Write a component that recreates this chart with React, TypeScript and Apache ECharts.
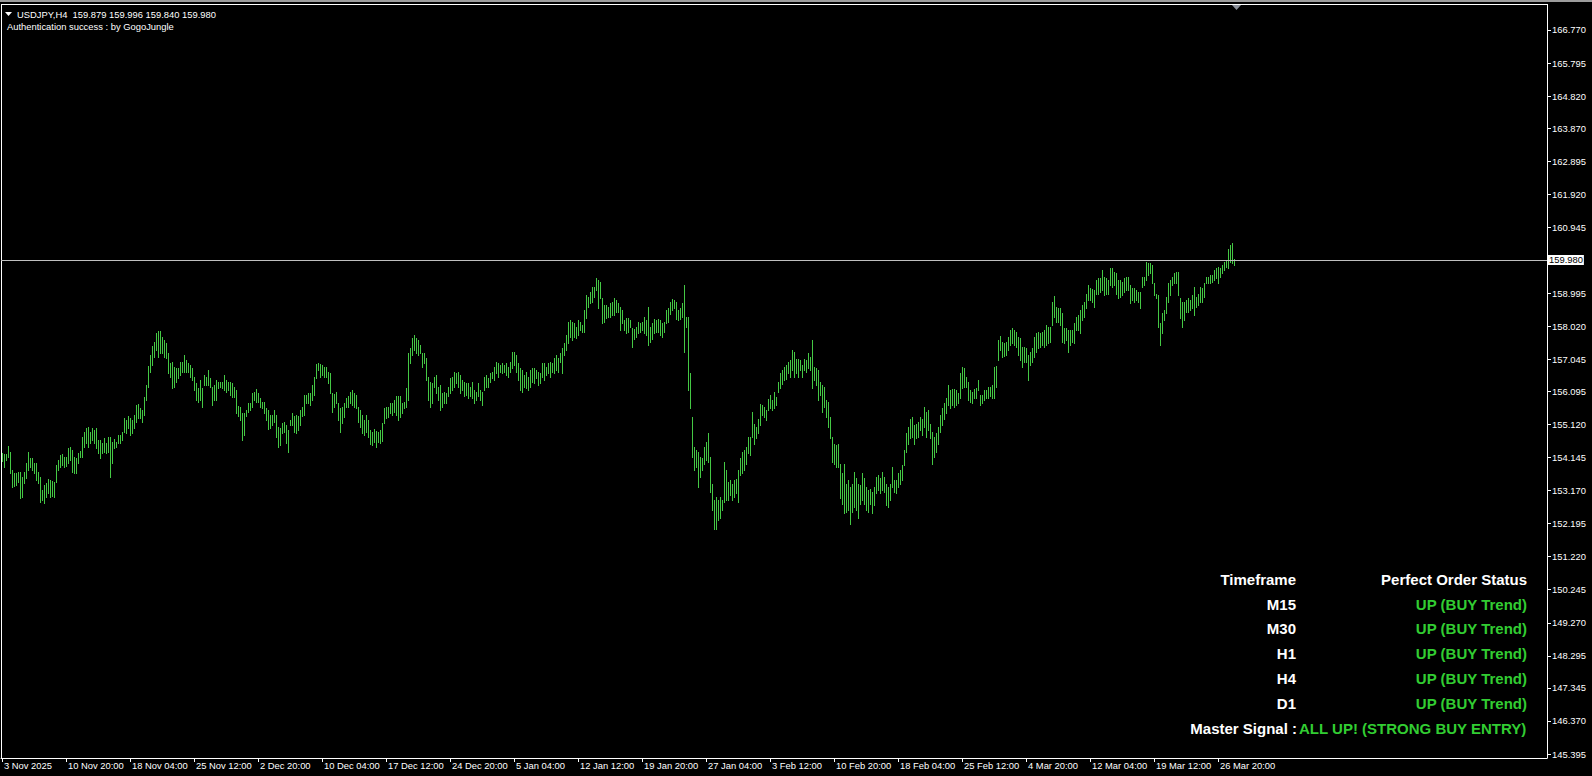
import React, { useEffect, useRef } from "react";
import * as echarts from "echarts";

// ---- chart data ----
const symbolLine = "USDJPY,H4  159.879 159.996 159.840 159.980";
const authLine = "Authentication success : by GogoJungle";
const lastPrice = 159.98;

const yTickValues = [
  166.77, 165.795, 164.82, 163.87, 162.895, 161.92, 160.945, 158.995, 158.02, 157.045, 156.095,
  155.12, 154.145, 153.17, 152.195, 151.22, 150.245, 149.27, 148.295, 147.345, 146.37, 145.395,
];

const xTickLabels = [
  "3 Nov 2025", "10 Nov 20:00", "18 Nov 04:00", "25 Nov 12:00", "2 Dec 20:00", "10 Dec 04:00",
  "17 Dec 12:00", "24 Dec 20:00", "5 Jan 04:00", "12 Jan 12:00", "19 Jan 20:00", "27 Jan 04:00",
  "3 Feb 12:00", "10 Feb 20:00", "18 Feb 04:00", "25 Feb 12:00", "4 Mar 20:00", "12 Mar 04:00",
  "19 Mar 12:00", "26 Mar 20:00",
];
const barsPerLabel = 32;
const totalSlots = 773;

// H4 bar highs
const highs = [
  154.27,154.25,154.25,154.49,154.32,153.78,153.68,153.70,153.73,153.73,
  153.58,153.73,153.98,154.32,154.12,154.12,154.00,153.98,153.73,153.58,
  153.19,153.34,153.39,153.50,153.49,153.45,153.44,153.93,154.08,154.22,
  154.25,154.17,154.17,154.42,154.47,154.37,154.17,154.12,154.27,154.35,
  154.76,154.91,155.01,155.04,154.91,155.01,154.96,155.01,154.67,154.67,
  154.57,154.72,154.57,154.74,154.76,154.62,154.69,154.62,154.81,154.81,
  154.91,155.31,155.26,155.36,155.31,155.26,155.40,155.70,155.73,155.60,
  155.55,155.94,156.29,156.85,157.18,157.44,157.57,157.82,157.87,157.87,
  157.72,157.62,157.52,157.23,156.93,156.98,156.83,156.78,156.78,156.98,
  156.98,157.18,157.03,156.95,156.88,156.78,156.54,156.34,156.19,156.44,
  156.19,156.59,156.54,156.73,156.49,156.24,156.29,156.44,156.39,156.39,
  156.39,156.59,156.44,156.39,156.39,156.34,156.22,156.14,155.67,155.65,
  155.45,155.45,155.55,155.75,155.75,156.04,156.09,156.16,156.04,155.90,
  155.80,155.80,155.60,155.55,155.40,155.40,155.55,155.40,155.06,155.01,
  155.16,155.21,155.11,154.96,155.26,155.45,155.36,155.40,155.36,155.55,
  155.65,155.99,155.99,156.04,156.04,156.29,156.54,156.91,156.95,
  156.91,156.88,156.83,156.83,156.68,156.63,156.04,156.02,156.09,155.75,
  155.60,155.65,155.75,155.90,155.95,156.09,156.14,156.04,155.99,155.65,
  155.55,155.40,155.26,155.40,155.26,154.96,154.91,154.98,154.94,154.91,
  154.96,155.16,155.60,155.65,155.65,155.75,155.75,155.85,155.95,155.96,
  155.95,155.75,155.80,156.19,157.22,157.37,157.67,157.77,157.67,157.62,
  157.47,157.22,157.22,157.08,156.54,156.39,156.34,156.54,156.58,156.24,
  156.29,156.04,156.09,156.04,156.24,156.49,156.54,156.68,156.63,156.68,
  156.58,156.44,156.39,156.34,156.34,156.24,156.39,156.14,156.09,156.34,
  156.14,156.09,156.54,156.58,156.49,156.63,156.68,156.83,156.98,156.93,
  156.88,156.93,156.88,156.93,156.83,156.98,157.27,157.27,157.18,156.93,
  156.78,156.73,156.58,156.68,156.54,156.73,156.78,156.78,156.73,156.68,
  156.63,156.93,156.93,156.83,156.93,156.98,156.93,157.08,157.18,157.08,
  157.22,157.37,157.52,157.77,158.16,158.21,158.16,158.11,158.01,158.21,
  158.16,158.06,158.50,158.95,158.90,159.04,159.19,159.19,159.44,159.39,
  159.34,158.85,158.65,158.65,158.60,158.70,158.75,158.85,158.80,158.70,
  158.60,158.50,158.21,158.26,158.26,
  158.20,157.96,157.93,158.01,158.15,158.13,158.15,158.30,158.20,158.58,
  158.01,158.11,158.25,158.20,158.25,158.20,158.11,158.15,158.50,158.55,
  158.75,158.84,158.79,158.75,158.50,158.55,158.70,159.24,158.30,158.30,
  156.63,155.35,154.46,154.37,154.32,154.17,154.12,154.46,154.61,154.86,
  154.17,153.38,152.89,152.99,152.89,152.99,152.89,154.02,153.78,153.43,
  153.48,153.38,153.48,153.50,153.78,154.12,154.32,154.37,154.46,154.76,
  154.76,155.50,155.15,155.06,155.30,155.74,155.69,155.65,155.55,155.89,
  155.99,155.84,156.09,155.94,156.38,156.63,156.73,156.83,156.88,156.97,
  157.02,157.32,157.27,157.07,157.07,157.02,156.88,157.07,157.02,157.22,
  157.12,157.61,156.83,156.78,156.73,156.38,156.29,156.24,155.84,155.79,
  155.35,154.76,154.56,154.51,154.56,153.97,153.68,153.97,153.38,153.48,
  153.28,153.38,153.73,153.53,153.38,153.33,153.68,153.53,153.28,153.19,
  153.23,153.14,153.28,153.58,153.63,153.53,153.73,153.58,153.38,153.28,
  153.38,153.87,153.48,153.48,153.68,153.78,153.92,154.37,154.86,155.06,
  155.30,155.35,155.10,155.15,155.20,155.35,155.30,155.65,155.50,155.55,
  155.15,154.91,154.76,154.86,155.06,
  155.40,155.60,155.75,155.90,156.29,156.14,156.16,156.16,156.14,156.04,
  156.63,156.83,156.78,156.53,156.39,156.14,156.09,156.16,156.19,156.44,
  155.99,155.99,156.14,156.14,156.24,156.24,156.29,156.83,156.85,157.62,
  157.74,157.57,157.52,157.57,157.72,157.91,157.96,157.91,157.86,157.72,
  157.67,157.42,157.42,157.37,157.18,157.27,157.37,157.72,157.82,157.86,
  157.82,157.86,157.91,158.06,158.01,158.01,158.75,158.92,158.60,158.55,
  158.55,158.41,157.96,157.96,157.91,157.91,157.91,158.11,158.31,158.36,
  158.50,158.65,158.75,158.99,159.24,159.14,159.11,159.09,159.39,159.44,
  159.44,159.69,159.49,159.44,159.39,159.73,159.73,159.64,159.59,159.39,
  159.39,159.34,159.44,159.49,159.49,159.24,159.14,159.14,159.09,159.04,
  159.04,159.49,159.49,159.93,159.88,159.88,159.83,159.29,158.99,158.95,
  158.11,158.41,158.50,158.90,159.29,159.39,159.49,159.59,159.64,159.64,
  158.85,158.75,158.75,158.80,158.85,158.80,158.95,159.17,158.90,158.99,
  159.19,159.14,159.29,159.49,159.49,159.54,159.54,159.69,159.73,159.78,
  159.73,159.83,159.93,159.98,160.29,160.42,160.47,160.00,
];

// H4 bar lows
const lows = [
  154.06,153.88,154.08,154.17,153.68,153.29,153.31,153.34,153.44,152.94,
  152.99,153.39,153.53,153.78,153.88,153.78,153.68,153.49,153.39,152.84,
  152.89,152.80,152.99,153.09,152.99,153.02,152.99,153.44,153.78,153.88,
  153.93,153.88,153.90,153.98,154.08,153.73,153.68,153.68,153.98,154.17,
  154.17,154.47,154.57,154.47,154.57,154.67,154.57,154.42,154.27,154.12,
  154.27,154.32,154.27,154.32,153.58,153.98,154.42,154.47,154.57,154.59,
  154.67,154.91,154.86,155.01,154.81,154.86,155.01,155.21,155.31,155.31,
  155.21,155.40,155.85,156.24,156.68,156.88,157.13,157.32,157.13,157.23,
  157.24,157.13,157.08,156.63,156.54,156.19,156.24,156.39,156.49,156.59,
  156.68,156.68,156.68,156.68,156.54,156.44,156.14,155.85,155.80,155.85,
  155.65,156.29,156.29,156.29,156.24,155.70,155.85,155.85,156.19,156.22,
  156.19,156.14,156.09,156.14,155.99,155.94,155.94,155.45,155.36,155.26,
  154.67,154.81,155.36,155.50,155.55,155.65,155.85,155.80,155.80,155.65,
  155.60,155.45,155.26,154.98,155.01,155.11,155.21,154.76,154.47,154.52,
  154.86,154.91,154.57,154.32,155.11,155.11,154.91,154.86,154.96,155.11,
  155.36,155.40,155.75,155.75,155.70,155.85,155.99,156.49,156.73,
  156.54,156.58,156.54,156.52,156.34,156.04,155.50,155.65,155.75,155.26,
  154.91,155.16,155.35,155.65,155.65,155.75,155.70,155.65,155.60,155.21,
  155.06,154.86,154.81,154.91,154.76,154.55,154.52,154.62,154.45,154.60,
  154.58,154.65,155.16,155.31,155.35,155.45,155.40,155.50,155.40,155.26,
  155.35,155.45,155.60,155.65,155.85,156.93,157.18,157.32,157.22,157.18,
  157.22,156.83,156.93,156.44,155.85,155.65,155.75,156.24,156.04,155.85,
  155.55,155.65,155.75,155.75,155.95,156.04,156.14,156.24,156.34,156.24,
  156.04,156.14,155.95,155.99,155.90,155.95,155.90,155.75,155.85,155.95,
  155.85,155.70,156.14,156.24,156.24,156.39,156.49,156.44,156.63,156.54,
  156.68,156.63,156.68,156.58,156.54,156.68,156.78,156.88,156.68,156.44,
  156.14,156.09,156.24,156.19,156.14,156.24,156.39,156.34,156.49,156.29,
  156.34,156.54,156.44,156.58,156.63,156.54,156.68,156.63,156.73,156.68,
  156.98,156.63,157.18,157.32,157.52,157.72,157.62,157.72,157.67,157.77,
  157.91,157.86,157.86,158.26,158.60,158.70,158.75,158.90,159.09,158.55,
  158.85,158.11,158.16,158.26,158.31,158.31,158.36,158.36,158.45,158.45,
  157.91,158.11,157.91,157.81,157.86,
  157.99,157.40,157.66,157.71,157.81,157.86,157.91,157.81,157.76,157.47,
  157.56,157.66,157.81,157.86,157.86,157.76,157.71,157.86,158.11,158.15,
  158.40,158.50,158.55,158.25,158.20,158.25,158.30,157.27,158.01,156.14,
  155.60,154.17,153.78,153.87,153.28,153.58,153.78,153.97,154.07,154.02,
  153.14,152.59,152.05,152.05,152.30,152.35,152.59,152.84,152.89,152.89,
  153.04,152.89,152.99,153.09,152.84,153.63,153.68,153.78,153.97,154.27,
  154.22,154.76,154.56,154.71,154.86,155.10,155.40,155.35,155.27,155.55,
  155.60,155.55,155.60,155.69,156.09,156.19,156.33,156.43,156.48,156.63,
  156.53,156.73,156.53,156.63,156.53,156.73,156.53,156.73,156.68,156.78,
  156.73,156.19,156.43,156.29,155.84,155.99,155.50,155.65,155.35,155.06,
  154.71,154.02,153.97,153.87,153.87,152.94,152.79,152.50,152.55,152.59,
  152.20,152.55,152.69,152.59,152.35,152.79,152.89,152.79,152.59,152.55,
  152.79,152.50,152.74,153.09,153.19,153.09,153.19,153.14,152.74,152.69,
  152.89,153.28,153.14,153.09,153.28,153.38,153.48,153.92,154.32,154.56,
  154.71,154.76,154.56,154.71,154.76,154.96,154.81,155.06,154.76,154.96,
  154.71,153.97,154.17,154.32,154.56,
  154.90,155.10,155.30,155.45,155.70,155.60,155.70,155.65,155.70,155.75,
  155.90,156.19,156.24,156.24,155.85,155.80,155.75,155.90,155.90,156.14,
  155.70,155.75,155.85,155.90,155.90,155.95,155.90,155.90,156.24,157.03,
  157.32,157.13,157.15,157.18,157.32,157.47,157.52,157.47,157.42,157.18,
  157.03,156.83,156.98,156.98,156.44,156.88,156.98,157.13,157.27,157.37,
  157.42,157.47,157.42,157.47,157.52,157.57,158.06,158.31,158.16,158.16,
  158.06,157.57,157.52,157.62,157.27,157.47,157.57,157.52,157.91,157.91,
  157.81,158.21,158.31,158.55,158.80,158.80,158.75,158.60,158.99,158.99,
  159.04,159.09,158.95,158.99,158.99,159.24,159.19,159.24,158.99,158.85,
  158.90,158.95,159.04,159.09,159.09,158.70,158.80,158.75,158.80,158.75,
  158.55,159.19,159.24,159.39,159.54,159.59,159.29,158.95,158.85,158.01,
  157.47,157.82,158.21,158.41,158.75,158.95,159.24,159.29,159.29,158.95,
  158.26,158.01,158.21,158.45,158.45,158.50,158.55,158.36,158.60,158.65,
  158.75,158.75,158.90,159.29,159.29,159.29,159.34,159.39,159.44,159.29,
  159.49,159.59,159.69,159.78,159.73,159.93,159.88,159.84,
];

const timeframes = ["M15", "M30", "H1", "H4", "D1"];
const statuses = ["UP (BUY Trend)", "UP (BUY Trend)", "UP (BUY Trend)", "UP (BUY Trend)", "UP (BUY Trend)"];
const masterLabel = "Master Signal :";
const masterSignal = "ALL UP! (STRONG BUY ENTRY)";
const tableHeaders = ["Timeframe", "Perfect Order Status"];

// ---- styles ----
const FONT = "'Liberation Sans', Arial, sans-serif";
const BAR_COLOR = "#44c844";
const GREEN = "#32cd32";

export default function App() {
  const ref = useRef<HTMLDivElement>(null);

  useEffect(() => {
    document.body.style.margin = "0";
    document.body.style.background = "#000";
    const chart = echarts.init(ref.current!, null, { renderer: "svg" });

    const n = Math.min(highs.length, lows.length);
    const bars = [];
    for (let i = 0; i < n; i++) bars.push([i, lows[i], highs[i]]);

    const isLabelIdx = (i: number) => i % barsPerLabel === 0 && i / barsPerLabel < xTickLabels.length;
    const categories: string[] = [];
    for (let i = 0; i < totalSlots; i++) {
      categories.push(isLabelIdx(i) ? xTickLabels[i / barsPerLabel] : "#" + i);
    }

    const rowY = [604, 628.5, 653.5, 678, 703];
    const tableGraphics: any[] = [
      { type: "text", x: 1296, y: 579, style: { text: tableHeaders[0], fill: "#fff", font: `bold 15px ${FONT}`, align: "right", verticalAlign: "middle" } },
      { type: "text", x: 1527, y: 579, style: { text: tableHeaders[1], fill: "#fff", font: `bold 15px ${FONT}`, align: "right", verticalAlign: "middle" } },
    ];
    timeframes.forEach((tf, k) => {
      tableGraphics.push({ type: "text", x: 1296, y: rowY[k], style: { text: tf, fill: "#fff", font: `bold 15px ${FONT}`, align: "right", verticalAlign: "middle" } });
      tableGraphics.push({ type: "text", x: 1527, y: rowY[k], style: { text: statuses[k], fill: GREEN, font: `bold 15px ${FONT}`, align: "right", verticalAlign: "middle" } });
    });
    tableGraphics.push({ type: "text", x: 1297, y: 728, style: { text: masterLabel, fill: "#fff", font: `bold 15px ${FONT}`, align: "right", verticalAlign: "middle" } });
    tableGraphics.push({ type: "text", x: 1299, y: 728, style: { text: masterSignal, fill: GREEN, font: `bold 15px ${FONT}`, align: "left", verticalAlign: "middle" } });

    chart.setOption({
      animation: false,
      backgroundColor: "#000",
      grid: { left: 1, top: 5, width: 1546, height: 753, containLabel: false },
      xAxis: {
        type: "category",
        data: categories,
        boundaryGap: true,
        axisLine: { show: true, lineStyle: { color: "#fff", width: 1 } },
        axisTick: { show: true, alignWithLabel: true, interval: (i: number) => isLabelIdx(i), length: 4, lineStyle: { color: "#fff" } },
        axisLabel: {
          show: true,
          interval: (i: number) => isLabelIdx(i),
          formatter: (v: string) => (v.charAt(0) === "#" ? "" : v),
          color: "#fff",
          fontSize: 9.4,
          fontFamily: FONT,
          align: "left",
          margin: 3,
          padding: [0, 0, 0, 2],
        },
        splitLine: { show: false },
      },
      yAxis: {
        type: "value",
        position: "right",
        min: 145.277,
        max: 167.508,
        splitLine: { show: false },
        axisLine: { show: true, lineStyle: { color: "#fff", width: 1 } },
        axisTick: { show: true, inside: false, length: 4, lineStyle: { color: "#fff" }, customValues: yTickValues },
        axisLabel: {
          show: true,
          customValues: yTickValues,
          formatter: (v: number) => v.toFixed(3),
          color: "#fff",
          fontSize: 9.4,
          fontFamily: FONT,
          margin: 5,
        },
      },
      series: [
        {
          type: "custom",
          data: bars,
          encode: { x: 0, y: [1, 2] },
          renderItem: (_params: any, api: any) => {
            const idx = api.value(0);
            const lo = api.coord([idx, api.value(1)]);
            const hi = api.coord([idx, api.value(2)]);
            const x = Math.round(lo[0]);
            const y1 = Math.round(hi[1]);
            const y2 = Math.round(lo[1]);
            return {
              type: "rect",
              shape: { x, y: y1, width: 1, height: Math.max(1, y2 - y1 + 1) },
              style: { fill: BAR_COLOR },
            };
          },
        },
        {
          type: "line",
          data: [],
          markLine: {
            silent: true,
            symbol: ["none", "none"],
            lineStyle: { color: "#c0c0c0", width: 1, type: "solid" },
            label: {
              show: true,
              position: "end",
              distance: 1,
              formatter: () => lastPrice.toFixed(3),
              backgroundColor: "#fff",
              color: "#000",
              fontSize: 9.4,
              fontFamily: FONT,
              padding: [1, 1, 0, 1],
            },
            data: [{ yAxis: lastPrice }],
          },
        },
      ],
      graphic: [
        { type: "rect", shape: { x: 0, y: 0, width: 1592, height: 2 }, style: { fill: "#9c9c9c" }, silent: true },
        { type: "line", shape: { x1: 1, y1: 4.5, x2: 1548, y2: 4.5 }, style: { stroke: "#fff", lineWidth: 1 }, silent: true },
        { type: "line", shape: { x1: 1.5, y1: 4.5, x2: 1.5, y2: 758 }, style: { stroke: "#fff", lineWidth: 1 }, silent: true },
        { type: "polygon", shape: { points: [[1232, 5], [1241, 5], [1236.5, 10]] }, style: { fill: "#8a8f99" }, silent: true },
        { type: "polygon", shape: { points: [[5, 12], [12, 12], [8.5, 16]] }, style: { fill: "#fff" }, silent: true },
        { type: "text", x: 17, y: 14, style: { text: symbolLine, fill: "#fff", font: `9.4px ${FONT}`, verticalAlign: "middle" }, silent: true },
        { type: "text", x: 7, y: 26, style: { text: authLine, fill: "#fff", font: `9.4px ${FONT}`, verticalAlign: "middle" }, silent: true },
        ...tableGraphics,
      ],
    });

    return () => chart.dispose();
  }, []);

  return <div ref={ref} style={{ width: 1592, height: 776, background: "#000" }} />;
}
